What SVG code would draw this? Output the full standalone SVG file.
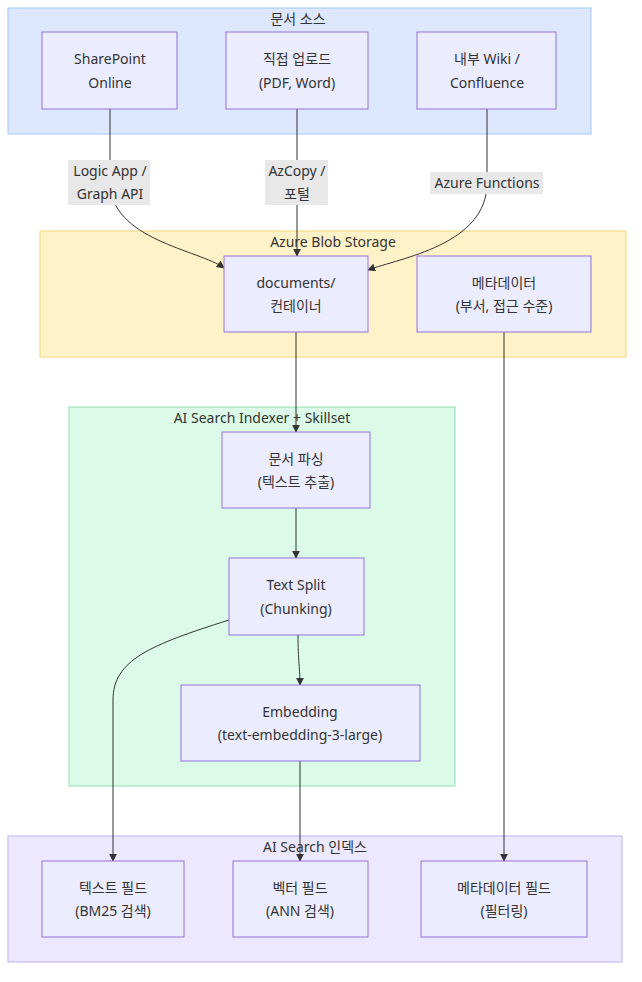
<svg xmlns="http://www.w3.org/2000/svg" width="642" height="982" viewBox="0 0 642 982">
<style>
text{font-family:"Noto Sans","Noto Sans CJK KR",sans-serif;font-size:14px;fill:#333;text-anchor:middle}
.n{fill:#ececff;stroke:#9370db;stroke-width:1}
.e{fill:none;stroke:#333;stroke-width:1;marker-end:url(#a)}
.lb{fill:#e8e8e8}
</style>
<defs><marker id="a" viewBox="0 0 10 10" refX="9" refY="5" markerWidth="8" markerHeight="8" orient="auto"><path d="M0,0L10,5L0,10z" fill="#333"/></marker></defs>
<g id="c1"><rect x="8" y="8" width="583" height="126" fill="#dde8ff" stroke="#a0c8f8"/><text x="298" y="24">문서 소스</text></g>
<g id="c2"><rect x="40" y="231" width="586" height="126" fill="#fff2c8" stroke="#f0d878"/><text x="333" y="247">Azure Blob Storage</text></g>
<g id="c3"><rect x="69" y="407" width="386" height="379" fill="#dcfae8" stroke="#90e0b0"/><text x="262" y="423">AI Search Indexer + Skillset</text></g>
<g id="c4"><rect x="8" y="836" width="614" height="126" fill="#ece8ff" stroke="#c0b0f0"/><text x="315" y="852">AI Search 인덱스</text></g>
<g id="edges">
<path class="e" d="M110,109V182C110,240 200,250 224,268"/>
<path class="e" d="M297,109V256"/>
<path class="e" d="M487,109V183C487,245 400,258 368,270"/>
<path class="e" d="M296,332V432"/>
<path class="e" d="M504,332V861"/>
<path class="e" d="M296,508V558"/>
<path class="e" d="M298,635C298,660 300,670 300,685"/>
<path class="e" d="M229,620C150,645 113,660 113,700V861"/>
<path class="e" d="M300,761V861"/>
<rect class="lb" x="68" y="160" width="82" height="45"/><text x="110" y="176">Logic App /</text><text x="110" y="199">Graph API</text>
<rect class="lb" x="265" y="160" width="63" height="45"/><text x="297" y="176">AzCopy /</text><text x="297" y="199">포털</text>
<rect class="lb" x="430" y="172" width="113" height="22"/><text x="487" y="188">Azure Functions</text>
</g>
<g id="n1"><rect class="n" x="42" y="32" width="135" height="77"/><text x="110" y="64">SharePoint</text><text x="110" y="88">Online</text></g>
<g id="n2"><rect class="n" x="226" y="32" width="142" height="77"/><text x="297" y="64">직접 업로드</text><text x="297" y="88">(PDF, Word)</text></g>
<g id="n3"><rect class="n" x="417" y="32" width="139" height="77"/><text x="487" y="64">내부 Wiki /</text><text x="487" y="88">Confluence</text></g>
<g id="n4"><rect class="n" x="224" y="256" width="144" height="76"/><text x="296" y="288">documents/</text><text x="296" y="311">컨테이너</text></g>
<g id="n5"><rect class="n" x="417" y="256" width="174" height="76"/><text x="504" y="288">메타데이터</text><text x="504" y="311">(부서, 접근 수준)</text></g>
<g id="n6"><rect class="n" x="222" y="432" width="148" height="76"/><text x="296" y="464">문서 파싱</text><text x="296" y="487">(텍스트 추출)</text></g>
<g id="n7"><rect class="n" x="229" y="558" width="135" height="77"/><text x="296" y="590">Text Split</text><text x="296" y="614">(Chunking)</text></g>
<g id="n8"><rect class="n" x="181" y="685" width="239" height="76"/><text x="300" y="717">Embedding</text><text x="300" y="740">(text-embedding-3-large)</text></g>
<g id="n9"><rect class="n" x="42" y="861" width="142" height="76"/><text x="113" y="893">텍스트 필드</text><text x="113" y="916">(BM25 검색)</text></g>
<g id="n10"><rect class="n" x="233" y="861" width="135" height="76"/><text x="300" y="893">벡터 필드</text><text x="300" y="916">(ANN 검색)</text></g>
<g id="n11"><rect class="n" x="421" y="861" width="166" height="76"/><text x="504" y="893">메타데이터 필드</text><text x="504" y="916">(필터링)</text></g>
</svg>
